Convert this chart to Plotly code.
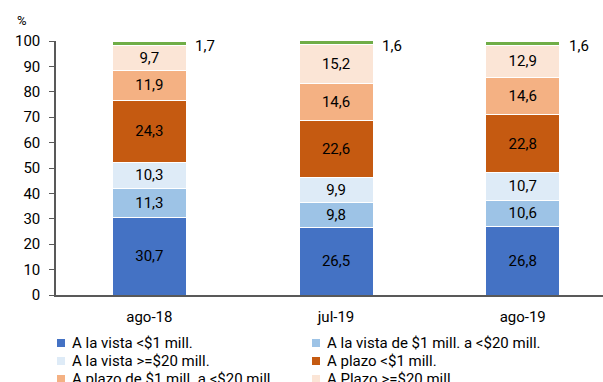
import plotly.graph_objects as go

categories = ["ago-18", "jul-19", "ago-19"]
series_names = [
    "A la vista <$1 mill.",
    "A la vista de $1 mill. a <$20 mill.",
    "A la vista >=$20 mill.",
    "A plazo <$1 mill.",
    "A plazo de $1 mill. a <$20 mill.",
    "A Plazo >=$20 mill.",
    "Otros",
]
vista_lt1 = [30.7, 26.5, 26.8]
vista_1_20 = [11.3, 9.8, 10.6]
vista_ge20 = [10.3, 9.9, 10.7]
plazo_lt1 = [24.3, 22.6, 22.8]
plazo_1_20 = [11.9, 14.6, 14.6]
plazo_ge20 = [9.7, 15.2, 12.9]
otros = [1.7, 1.6, 1.6]
y_ticks = [0, 10, 20, 30, 40, 50, 60, 70, 80, 90, 100]

series_values = [vista_lt1, vista_1_20, vista_ge20, plazo_lt1, plazo_1_20, plazo_ge20, otros]
colors = ["#4472C4", "#9DC3E6", "#DEEBF7", "#C55A11", "#F4B183", "#FBE5D6", "#70AD47"]

FONT = "Roboto"
W, H = 603, 382
L, T, B = 56, 41, 87
PW, PH = W - L, H - T - B


def px_to_paper(px, py):
    return (px - L) / PW, (H - B - py) / PH


def fmt(v):
    return f"{v:.1f}".replace(".", ",")


fig = go.Figure()
for i, (name, vals, col) in enumerate(zip(series_names, series_values, colors)):
    is_last = i == len(series_values) - 1
    fig.add_trace(go.Bar(
        x=categories, y=vals, name=name, showlegend=False,
        marker=dict(color=col, line=dict(color="white", width=1)),
        width=0.396,
        text=None if is_last else [fmt(v) for v in vals],
        textposition="inside", insidetextanchor="middle",
        textfont=dict(family=FONT, size=15, color="black"),
        constraintext="none",
    ))

# outside labels for the thin top segment (anchored at the segment's middle)
for xi, (c, v) in enumerate(zip(categories, otros)):
    below = sum(s[xi] for s in series_values[:-1])
    fig.add_annotation(x=c, y=below + v / 2, xref="x", yref="y",
                       text=fmt(v), showarrow=False,
                       xshift=44, yshift=-3, xanchor="left", yanchor="middle",
                       font=dict(family=FONT, size=15, color="black"))

# y-axis unit
ux, uy = px_to_paper(22, 21)
fig.add_annotation(x=ux, y=uy, xref="paper", yref="paper", text="%",
                   showarrow=False, xanchor="center", yanchor="middle",
                   font=dict(family=FONT, size=13, color="black"))

# legend (two columns)
for i, (name, col) in enumerate(zip(series_names, colors)):
    row, colm = divmod(i, 2)
    mx = 57 + colm * 255
    my = 343 + row * 18
    x0, y0 = px_to_paper(mx, my - 4)
    x1, y1 = px_to_paper(mx + 8, my + 4)
    fig.add_shape(type="rect", xref="paper", yref="paper", x0=x0, x1=x1, y0=y1, y1=y0,
                  fillcolor=col, line=dict(width=0))
    tx, ty = px_to_paper(mx + 13, my)
    fig.add_annotation(x=tx, y=ty, xref="paper", yref="paper", text=name,
                       showarrow=False, xanchor="left", yanchor="middle",
                       font=dict(family=FONT, size=15, color="black"))

fig.update_layout(
    width=W, height=H,
    barmode="stack",
    plot_bgcolor="white", paper_bgcolor="white",
    margin=dict(l=L, r=0, t=T, b=B, autoexpand=False),
    font=dict(family=FONT, size=15, color="black"),
    showlegend=False,
    xaxis=dict(type="category", range=[-0.5, 2.43], showline=True, linecolor="#595959",
               linewidth=1.5, ticks="", showgrid=False, tickfont=dict(size=15),
               ticklabelstandoff=7),
    yaxis=dict(range=[0, 100], tickvals=y_ticks, showline=True, linecolor="#595959",
               linewidth=1.5, ticks="outside", ticklen=5, tickcolor="#595959",
               showgrid=False, zeroline=False, tickfont=dict(size=15),
               ticklabelstandoff=6),
)

fig.write_html("out.html")
